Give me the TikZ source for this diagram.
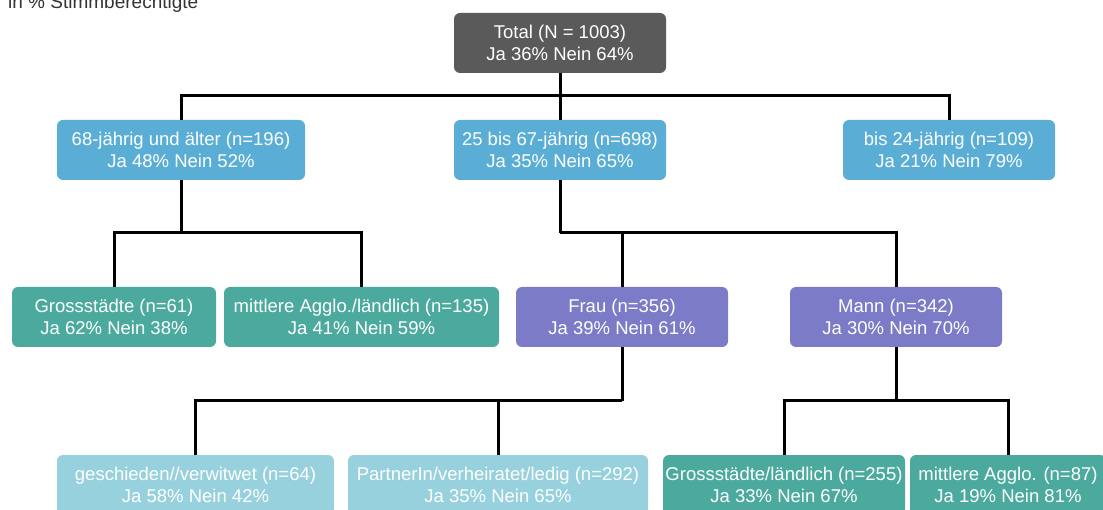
\documentclass[tikz,border=0pt]{standalone}
\usepackage{fontspec}
\setmainfont{Liberation Sans}
\definecolor{cgray}{HTML}{5A5A5A}
\definecolor{cblue}{HTML}{5AAED6}
\definecolor{cpurple}{HTML}{7B7BC7}
\definecolor{cteal}{HTML}{4BAA9D}
\definecolor{cpale}{HTML}{97D1DD}
\definecolor{ctitle}{HTML}{333333}
\tikzset{
  box/.style={rectangle, rounded corners=6pt, draw=none, text=white, align=center,
    minimum height=60pt, inner sep=0pt, font=\fontsize{18.5}{22}\selectfont},
  conn/.style={draw=black, line width=3pt},
}
\begin{document}
\begin{tikzpicture}[x=1pt,y=-1pt]
\clip (0,0) rectangle (1103,510);
\useasboundingbox (0,0) rectangle (1103,510);
\fill[white] (0,0) rectangle (1103,510);
\node[anchor=base west, inner sep=0pt, text=ctitle, font=\fontsize{19}{22}\selectfont] (title) at (8,9) {in \% Stimmberechtigte};
% nodes
\node[box, fill=cgray, minimum width=212pt] (total) at (560,43) {Total (N = 1003)\\Ja 36\% Nein 64\%};
\node[box, fill=cblue, minimum width=248pt] (n68) at (181,150) {68-jährig und älter (n=196)\\Ja 48\% Nein 52\%};
\node[box, fill=cblue, minimum width=212pt] (n25) at (560,150) {25 bis 67-jährig (n=698)\\Ja 35\% Nein 65\%};
\node[box, fill=cblue, minimum width=212pt] (n24) at (949,150) {bis 24-jährig (n=109)\\Ja 21\% Nein 79\%};
\node[box, fill=cteal, minimum width=204pt] (gs61) at (114,317) {Grossstädte (n=61)\\Ja 62\% Nein 38\%};
\node[box, fill=cteal, minimum width=275pt] (ag135) at (361.5,317) {mittlere Agglo./ländlich (n=135)\\Ja 41\% Nein 59\%};
\node[box, fill=cpurple, minimum width=212pt] (frau) at (622,317) {Frau (n=356)\\Ja 39\% Nein 61\%};
\node[box, fill=cpurple, minimum width=212pt] (mann) at (896,317) {Mann (n=342)\\Ja 30\% Nein 70\%};
\node[box, fill=cpale, minimum width=277pt] (gesch) at (195.5,485) {geschieden//verwitwet (n=64)\\Ja 58\% Nein 42\%};
\node[box, fill=cpale, minimum width=300pt] (partner) at (498,485) {PartnerIn/verheiratet/ledig (n=292)\\Ja 35\% Nein 65\%};
\node[box, fill=cteal, minimum width=242pt] (gl255) at (784,485) {Grossstädte/ländlich (n=255)\\Ja 33\% Nein 67\%};
\node[box, fill=cteal, minimum width=196pt] (ag87) at (1008,485) {mittlere Agglo. (n=87)\\Ja 19\% Nein 81\%};
% branch points
\coordinate (b0) at (560,96);
\coordinate (b1) at (181,233);
\coordinate (b2) at (560,233);
\coordinate (b3) at (622,401);
\coordinate (b4) at (896,401);
% connectors
\draw[conn] (total.south) -- (n25.north);
\draw[conn] (n68.north) |- (b0) -| (n24.north);
\draw[conn] (n68.south) -- (b1);
\draw[conn] (gs61.north) |- (b1) -| (ag135.north);
\draw[conn] (n25.south) -- (b2);
\draw[conn] (frau.north) |- (b2) -| (mann.north);
\draw[conn] (frau.south) -- (b3);
\draw[conn] (gesch.north) |- (b3);
\draw[conn] (partner.north) -- (partner.north |- b3);
\draw[conn] (mann.south) -- (b4);
\draw[conn] (gl255.north) |- (b4) -| (ag87.north);
\end{tikzpicture}
\end{document}
